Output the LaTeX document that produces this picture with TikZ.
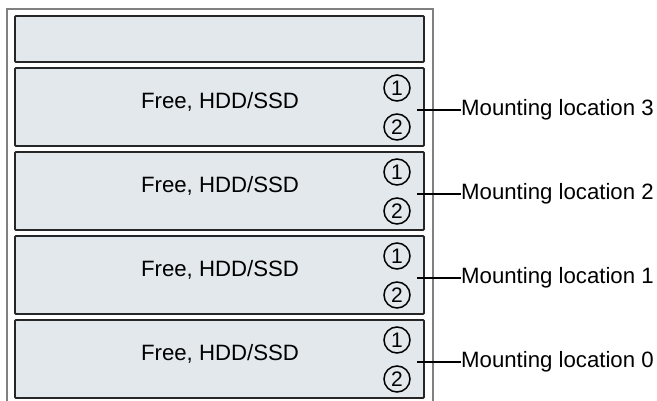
\documentclass[tikz,border=0pt]{standalone}
\usepackage{fontspec}
\setmainfont{Liberation Sans}
\begin{document}
\begin{tikzpicture}[x=1pt,y=-1pt,
  bay/.style={draw=black!85,line width=1.8pt,fill=bayfill,rounded corners=1pt},
  numcirc/.style={circle,draw=black,line width=1.5pt,minimum size=26pt,inner sep=0pt,font=\fontsize{21}{21}\selectfont},
  bigtext/.style={font=\fontsize{22.2}{26}\selectfont,inner sep=0pt},
  leader/.style={draw=black,line width=1.2pt}]
\definecolor{bayfill}{HTML}{E2E8EC}
\useasboundingbox (0,0) rectangle (657,401);
% outer frame, open at the bottom
\draw[draw=black!50,line width=1.6pt] (7,401) -- (7,9) -- (433,9) -- (433,401);
% top empty bay
\path[bay] (15,16) rectangle (424,62);
\foreach \i/\top/\loc in {a/68/3,b/152/2,c/236/1,d/320/0}{
  \path[bay] (15,\top) rectangle (424,\top+78);
  \node[bigtext] (t\i) at (220,\top+34) {Free, HDD/SSD};
  \node[numcirc] (o\i) at (397,\top+20) {1};
  \node[numcirc] (w\i) at (397,\top+59) {2};
  \coordinate (s\i) at (417,\top+42);
  \node[bigtext,anchor=west] (l\i) at (461,\top+42) {Mounting location \loc};
  \draw[leader] (s\i) -- (l\i.west);
}
\end{tikzpicture}
\end{document}
